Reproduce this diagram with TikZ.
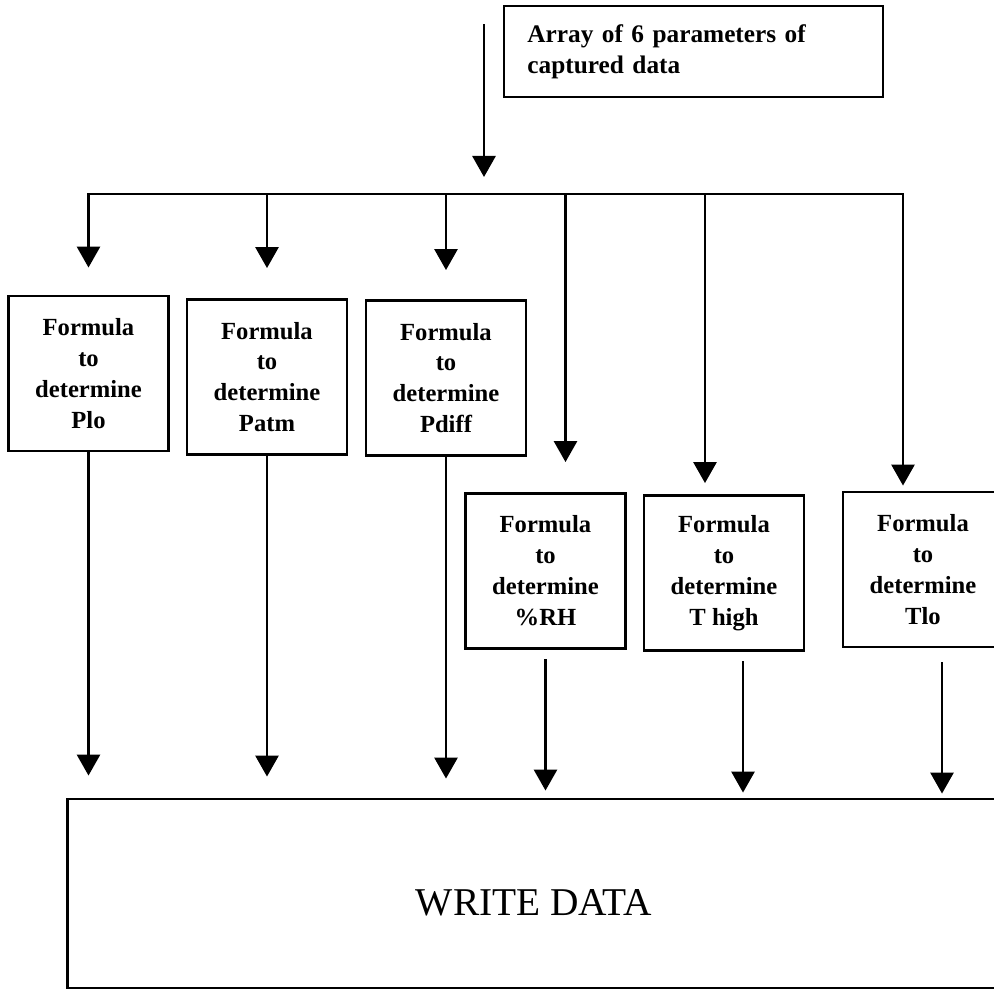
\documentclass[tikz,border=0pt]{standalone}
\usepackage{fontspec}
\setmainfont{Liberation Serif}
\usetikzlibrary{arrows.meta}
\begin{document}
\begin{tikzpicture}[x=0.025cm, y=-0.025cm, line width=2pt, line cap=rect,
    fbox/.style={draw, minimum width=4cm, minimum height=3.875cm, align=center,
      font=\bfseries\fontsize{17.5}{22}\selectfont},
    flow/.style={-{Triangle[length=5.25mm,width=5.75mm]}}]
  \clip (0,0) rectangle (994,995);
  \node (arr) [draw, minimum width=9.475cm, minimum height=2.275cm, text width=8.3cm,
    align=left, font=\bfseries\fontsize{18}{22}\selectfont] at (693.5,51.5)
    {Array of 6 parameters of\\captured data};
  \node (plo) [fbox] at (88.5,373.5) {Formula\\to\\determine\\Plo};
  \node (patm) [fbox] at (267,377) {Formula\\to\\determine\\Patm};
  \node (pdiff) [fbox] at (446,378) {Formula\\to\\determine\\Pdiff};
  \node (rh) [fbox] at (545.5,571) {Formula\\to\\determine\\\%RH};
  \node (thigh) [fbox] at (724,573) {Formula\\to\\determine\\T high};
  \node (tlo) [fbox] at (923,569.5) {Formula\\to\\determine\\Tlo};
  \node (write) [draw, minimum width=23.3cm, minimum height=4.725cm, text height=32pt,
    font=\fontsize{28}{34}\selectfont] at (534,893.5) {WRITE DATA};
  \coordinate (src) at (484,25);
  \coordinate (fork) at (484,194);
  % input and bus
  \draw[flow, shorten >=4.25mm] (src) -- (fork);
  \draw (plo.north |- fork) -- ([xshift=-5mm]tlo.north |- fork);
  \draw[flow, shorten >=6.75mm] (plo.north |- fork) -- (plo.north);
  \draw[flow, shorten >=7.5mm] (patm.north |- fork) -- (patm.north);
  \draw[flow, shorten >=7.25mm] (pdiff.north |- fork) -- (pdiff.north);
  \draw[flow, shorten >=7.5mm] ([xshift=5mm]rh.north |- fork) -- ([xshift=5mm]rh.north);
  \draw[flow, shorten >=2.75mm] ([xshift=-4.75mm]thigh.north |- fork) -- ([xshift=-4.75mm]thigh.north);
  \draw[flow, shorten >=1.25mm] ([xshift=-5mm]tlo.north |- fork) -- ([xshift=-5mm]tlo.north);
  % outputs
  \draw[flow, shorten >=5.5mm] (plo.south) -- (plo.south |- write.north);
  \draw[flow, shorten >=5.25mm] (patm.south) -- (patm.south |- write.north);
  \draw[flow, shorten >=4.75mm] (pdiff.south) -- (pdiff.south |- write.north);
  \draw[flow, shorten <=2.5mm, shorten >=1.75mm] (rh.south) -- (rh.south |- write.north);
  \draw[flow, shorten <=2.5mm, shorten >=1.25mm] ([xshift=4.75mm]thigh.south) -- ([xshift=4.75mm]thigh.south |- write.north);
  \draw[flow, shorten <=3.75mm, shorten >=1mm] ([xshift=4.75mm]tlo.south) -- ([xshift=4.75mm]tlo.south |- write.north);
\end{tikzpicture}
\end{document}
